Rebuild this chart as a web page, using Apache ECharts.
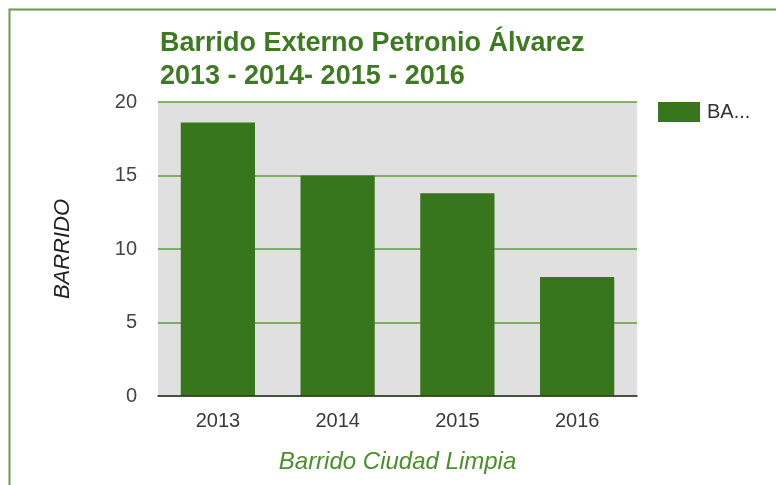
<!DOCTYPE html>
<html>
<head>
<meta charset="utf-8">
<script src="https://cdn.jsdelivr.net/npm/echarts@6/dist/echarts.min.js"></script>
<style>
  html, body { margin: 0; padding: 0; background: #fff; }
  #chart { width: 776px; height: 485px; }
</style>
</head>
<body>
<div id="chart"></div>
<script>
// datos del gráfico
const years = ['2013', '2014', '2015', '2016'];
const barrido = [18.6, 15.0, 13.8, 8.1];
const seriesName = 'BARRIDO';
const yTicks = { min: 0, max: 20, interval: 5 };

const chartInstance = echarts.init(document.getElementById('chart'));

const option = {
  backgroundColor: '#ffffff',
  animation: false,
  textStyle: { fontFamily: 'Liberation Sans, Arial, sans-serif' },
  graphic: [
    {
      type: 'rect',
      z: -10,
      shape: { x: 9.5, y: 9.5, width: 820, height: 520 },
      style: { fill: 'none', stroke: '#6a9a4a', lineWidth: 2 },
    },
  ],
  title: {
    text: 'Barrido Externo Petronio Álvarez\n2013 - 2014- 2015 - 2016',
    left: 155,
    top: 22,
    textStyle: {
      color: '#3d7a21',
      fontSize: 27,
      fontWeight: 'bold',
      lineHeight: 33,
      fontFamily: 'Liberation Sans, Arial, sans-serif',
    },
  },
  legend: {
    left: 653,
    top: 97,
    itemWidth: 42,
    itemHeight: 20,
    itemGap: 6,
    icon: 'rect',
    formatter: (name) => name.slice(0, 2) + '...',
    textStyle: { color: '#333', fontSize: 20, padding: [0, 0, 0, 2] },
  },
  grid: {
    left: 158,
    right: 139,
    top: 102,
    bottom: 89,
    show: true,
    backgroundColor: '#e0e0e0',
    borderWidth: 0,
  },
  xAxis: {
    type: 'category',
    data: years,
    name: 'Barrido Ciudad Limpia',
    nameLocation: 'middle',
    nameGap: 54,
    nameTextStyle: { color: '#4b8f2b', fontSize: 24, fontStyle: 'italic' },
    axisLine: { lineStyle: { color: '#333', width: 1.5 } },
    axisTick: { show: false },
    axisLabel: { color: '#3a3a3a', fontSize: 20, margin: 15 },
    z: 5,
  },
  yAxis: {
    type: 'value',
    min: yTicks.min,
    max: yTicks.max,
    interval: yTicks.interval,
    name: seriesName,
    nameLocation: 'middle',
    nameGap: 84,
    nameTextStyle: { color: '#222', fontSize: 22, fontStyle: 'italic' },
    axisLine: { show: false },
    axisTick: { show: false },
    axisLabel: { color: '#444', fontSize: 20, margin: 21 },
    splitLine: { lineStyle: { color: '#5f9e3e', width: 1.5 } },
  },
  series: [
    {
      name: seriesName,
      type: 'bar',
      data: barrido,
      barWidth: '62%',
      itemStyle: { color: '#38761d' },
    },
  ],
};

chartInstance.setOption(option);
</script>
</body>
</html>
